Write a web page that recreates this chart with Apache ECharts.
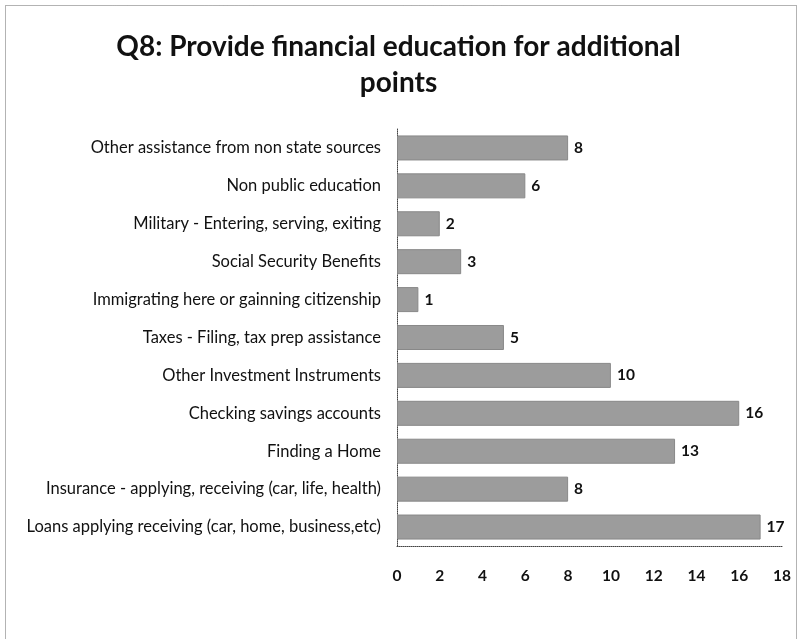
<!DOCTYPE html>
<html><head><meta charset="utf-8">
<script src="https://cdn.jsdelivr.net/npm/echarts@6/dist/echarts.min.js"></script>
<style>html,body{margin:0;padding:0;background:#fff}#c{width:797px;height:639px}</style>
</head><body><div id="c"></div>
<script>
const categories = [
  "Loans applying receiving (car, home, business,etc)",
  "Insurance - applying, receiving (car, life, health)",
  "Finding a Home",
  "Checking savings accounts",
  "Other Investment Instruments",
  "Taxes - Filing, tax prep assistance",
  "Immigrating here or gainning citizenship",
  "Social Security Benefits",
  "Military - Entering, serving, exiting",
  "Non public education",
  "Other assistance from non state sources"
];
const values = [17, 8, 13, 16, 10, 5, 1, 3, 2, 6, 8];
const titleText = "Q8: Provide financial education for additional\npoints";

const chart = echarts.init(document.getElementById('c'));
chart.setOption({
  animation: false,
  backgroundColor: '#fff',
  graphic: [{
    type: 'rect', left: 3, top: 3,
    shape: { width: 791, height: 640 },
    style: { fill: 'none', stroke: '#666', lineWidth: 1, lineDash: [1, 1] },
    silent: true
  }],
  title: {
    text: titleText,
    left: 'center', top: 24,
    textStyle: { fontFamily: 'Lato', fontWeight: 'bold', fontSize: 28, color: '#111', lineHeight: 36 }
  },
  grid: { left: 397, right: 15, top: 129, height: 417, containLabel: false },
  xAxis: {
    type: 'value', min: 0, max: 18, interval: 2,
    axisLine: { show: true, lineStyle: { color: '#444', type: 'dotted', width: 1 } },
    axisTick: { show: false },
    splitLine: { show: false },
    axisLabel: { margin: 22, fontFamily: 'Lato', fontWeight: 'bold', fontSize: 15.5, color: '#111' }
  },
  yAxis: {
    type: 'category', data: categories,
    axisLine: { show: true, lineStyle: { color: '#444', type: 'dotted', width: 1 } },
    axisTick: { show: false },
    axisLabel: { margin: 16, fontFamily: 'Lato', fontSize: 16.5, color: '#111' }
  },
  series: [{
    type: 'bar', data: values, barCategoryGap: '34%',
    itemStyle: { color: '#9c9c9c', borderColor: '#888', borderWidth: 1 },
    label: { show: true, position: 'right', distance: 6, fontFamily: 'Lato', fontWeight: 'bold', fontSize: 15.5, color: '#111' }
  }]
});
</script></body></html>
